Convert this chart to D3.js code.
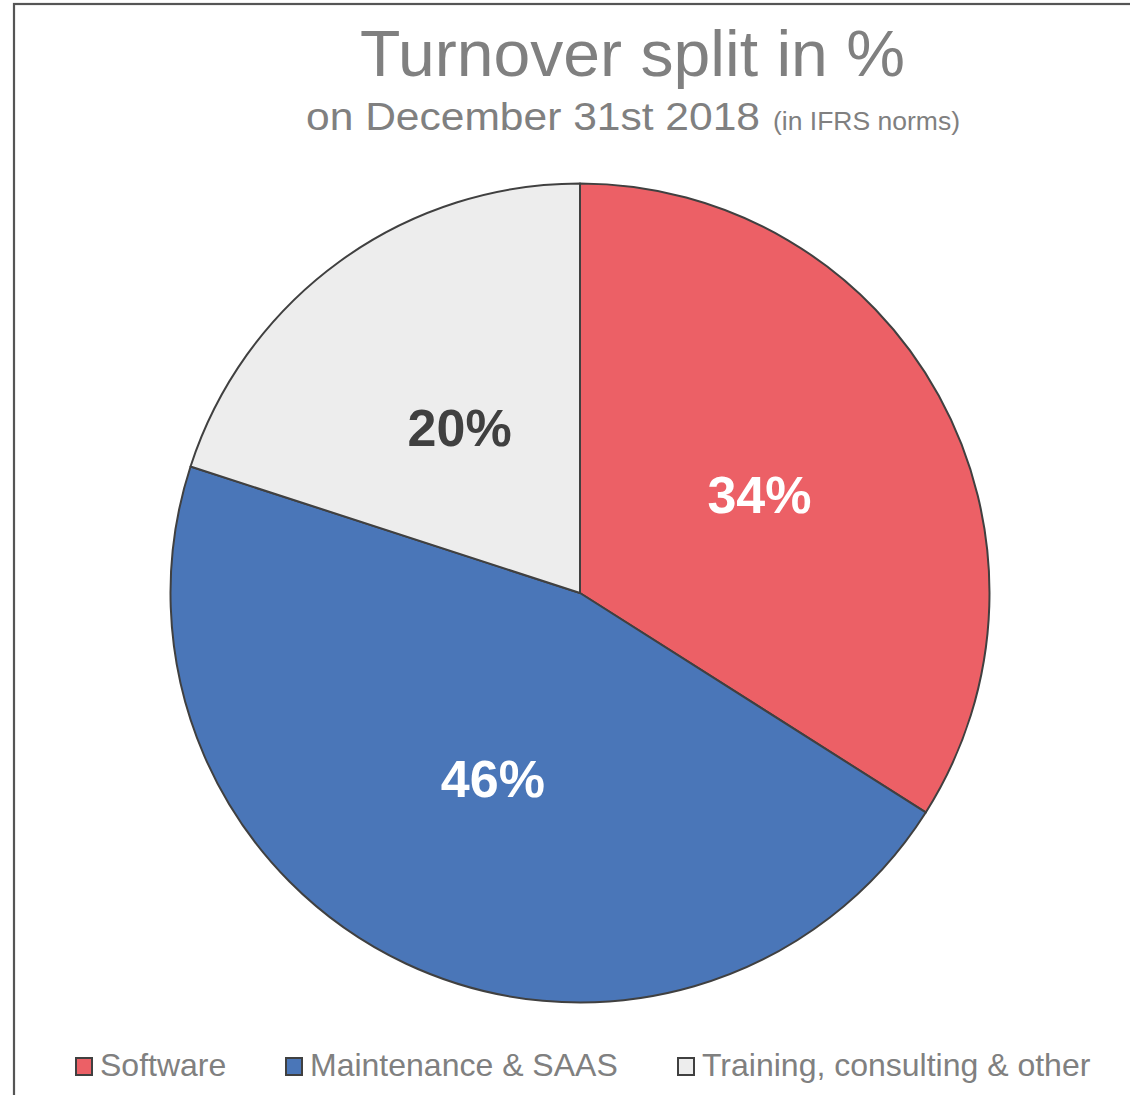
<!DOCTYPE html>
<html>
<head>
<meta charset="utf-8">
<script src="https://cdn.jsdelivr.net/npm/d3@7"></script>
<style>
html,body{margin:0;padding:0;background:#fff;}
svg text{font-family:Arial,"Liberation Sans",Helvetica,sans-serif;}
</style>
</head>
<body>
<svg id="chart" width="1130" height="1095" style="display:block"></svg>
<script>
const categories = ["Software", "Maintenance & SAAS", "Training, consulting & other"];
const values = [34, 46, 20];
const labels = ["34%", "46%", "20%"];
const colors = ["#EC6066", "#4A76B8", "#EDEDED"];
const labelColors = ["#FFFFFF", "#FFFFFF", "#404040"];
const titleText = "Turnover split in %";
const subtitleText = "on December 31st 2018";
const subtitleNote = "(in IFRS norms)";

const FONT = 'Arial, "Liberation Sans", Helvetica, sans-serif';
const svg = d3.select("#chart");

// outer frame (cropped at right/bottom)
svg.append("rect")
  .attr("x", 14).attr("y", 4)
  .attr("width", 1130).attr("height", 1200)
  .attr("fill", "#fff").attr("stroke", "#555").attr("stroke-width", 2.2);

// title
svg.append("text")
  .attr("x", 360).attr("y", 76)
  .attr("font-family", FONT)
  .attr("fill", "#808080")
  .attr("font-size", 65)
  .attr("textLength", 545)
  .attr("lengthAdjust", "spacingAndGlyphs")
  .text(titleText);

svg.append("text")
  .attr("x", 306).attr("y", 130)
  .attr("font-family", FONT)
  .attr("fill", "#808080")
  .attr("font-size", 39)
  .attr("textLength", 454)
  .attr("lengthAdjust", "spacingAndGlyphs")
  .text(subtitleText);

svg.append("text")
  .attr("x", 773).attr("y", 130)
  .attr("font-family", FONT)
  .attr("fill", "#808080")
  .attr("font-size", 25)
  .attr("textLength", 187)
  .attr("lengthAdjust", "spacingAndGlyphs")
  .text(subtitleNote);

// pie
const cx = 580, cy = 593, R = 409.5;
const pie = d3.pie().sort(null).value(d => d);
const arcs = pie(values);
const arc = d3.arc().innerRadius(0).outerRadius(R);

const g = svg.append("g").attr("transform", `translate(${cx},${cy})`);
g.selectAll("path.slice")
  .data(arcs)
  .join("path")
  .attr("class", "slice")
  .attr("d", arc)
  .attr("fill", (d, i) => colors[i])
  .attr("stroke", "#404040")
  .attr("stroke-width", 2)
  .attr("stroke-linejoin", "round");

g.selectAll("text.lbl")
  .data(arcs)
  .join("text")
  .attr("class", "lbl")
  .attr("transform", d => { const c = arc.centroid(d); return `translate(${c[0]},${c[1] + 19})`; })
  .attr("text-anchor", "middle")
  .attr("font-family", FONT)
  .attr("font-weight", "bold")
  .attr("font-size", 52)
  .attr("fill", (d, i) => labelColors[i])
  .text((d, i) => labels[i]);

// legend
const legendX = [75, 285, 677];
const lg = svg.append("g");
categories.forEach((c, i) => {
  lg.append("rect")
    .attr("x", legendX[i] + 1).attr("y", 1058)
    .attr("width", 16).attr("height", 17)
    .attr("fill", colors[i]).attr("stroke", "#404040").attr("stroke-width", 2);
  lg.append("text")
    .attr("x", legendX[i] + 25).attr("y", 1076)
    .attr("font-family", FONT)
    .attr("fill", "#808080")
    .attr("font-size", 32)
    .text(c);
});
</script>
</body>
</html>
